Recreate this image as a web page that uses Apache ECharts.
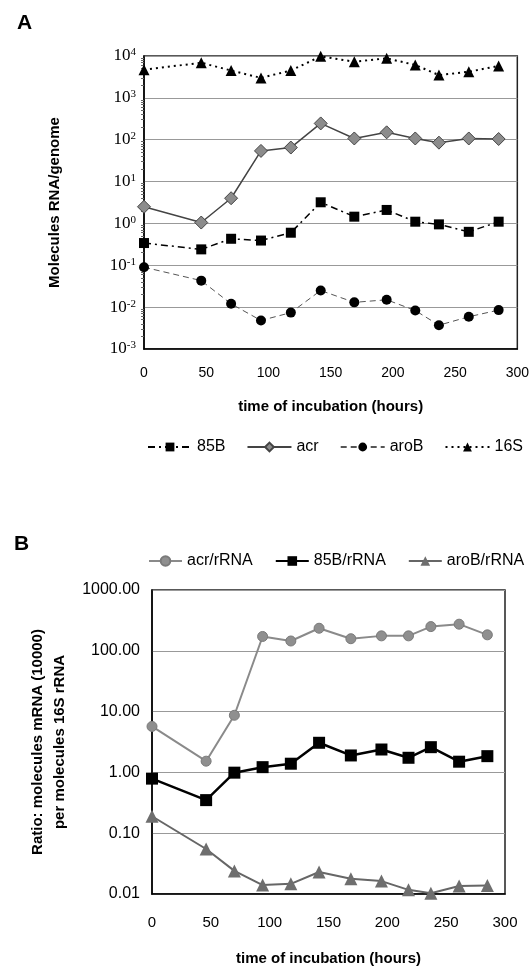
<!DOCTYPE html>
<html>
<head>
<meta charset="utf-8">
<script src="https://cdn.jsdelivr.net/npm/echarts@6/dist/echarts.min.js"></script>
<style>
  html, body { margin: 0; padding: 0; background: #fff; }
  #chart { width: 532px; height: 967px; }
</style>
</head>
<body>
<div id="chart"></div>
<script>
// sampling times (hours) — same for both panels
var hours = [0, 46, 70, 94, 118, 142, 169, 195, 218, 237, 261, 285];
var xTicks = [0, 50, 100, 150, 200, 250, 300];

// panel A: molecules RNA per genome
var rna85B = [0.34, 0.24, 0.43, 0.39, 0.6, 3.2, 1.45, 2.1, 1.1, 0.95, 0.63, 1.1];
var rnaAcr = [2.5, 1.05, 4.0, 54, 65, 245, 107, 150, 107, 85, 107, 104];
var rnaAroB = [0.09, 0.043, 0.012, 0.0048, 0.0074, 0.025, 0.013, 0.015, 0.0083, 0.0037, 0.0059, 0.0085];
var rna16S = [4700, 6900, 4500, 3000, 4500, 9800, 7300, 8800, 6100, 3500, 4200, 5800];

// panel B: ratio mRNA (x10000) per 16S rRNA
var ratioAcr = [5.7, 1.53, 8.7, 172, 145, 235, 158, 176, 176, 250, 274, 183];
var ratio85B = [0.79, 0.35, 0.99, 1.22, 1.39, 3.07, 1.9, 2.38, 1.74, 2.6, 1.5, 1.85];
var ratioAroB = [0.19, 0.055, 0.024, 0.014, 0.0147, 0.023, 0.0178, 0.0163, 0.0117, 0.0103, 0.0135, 0.0138];

function pairs(ys) {
    return hours.map(function (h, i) { return [h, ys[i]]; });
}

var sans = 'Liberation Sans';
var myChart = echarts.init(document.getElementById('chart'));

var xAxisBase = function (idx, size, margin, gap) {
    return {
        type: 'value',
        gridIndex: idx,
        min: xTicks[0],
        max: xTicks[xTicks.length - 1],
        interval: 50,
        axisLine: { lineStyle: { color: '#000', width: 1.5 } },
        axisTick: { show: false },
        splitLine: { show: false },
        axisLabel: { color: '#000', fontFamily: sans, fontSize: size, margin: margin },
        name: 'time of incubation (hours)',
        nameLocation: 'middle',
        nameGap: gap,
        nameTextStyle: { color: '#000', fontFamily: sans, fontSize: 15, fontWeight: 'bold' }
    };
};

var option = {
    backgroundColor: '#fff',
    animation: false,
    title: [
        { text: 'A', left: 12, top: 8, textStyle: { fontFamily: sans, fontSize: 21, fontWeight: 'bold', color: '#000' } },
        { text: 'B', left: 9, top: 529, textStyle: { fontFamily: sans, fontSize: 21, fontWeight: 'bold', color: '#000' } }
    ],
    grid: [
        { left: 144, right: 14, top: 56, height: 293, show: true, borderColor: '#222', borderWidth: 1.5 },
        { left: 152, right: 27, top: 590, height: 305, show: true, borderColor: '#222', borderWidth: 1.5 }
    ],
    legend: [
        {
            data: ['85B', 'acr', 'aroB', '16S'],
            left: 142, top: 434, width: 390, itemGap: 21, itemWidth: 44, itemHeight: 11,
            textStyle: { fontFamily: sans, fontSize: 16, color: '#000' }
        },
        {
            data: ['acr/rRNA', '85B/rRNA', 'aroB/rRNA'],
            left: 143, top: 548, width: 389, itemGap: 22, itemWidth: 33, itemHeight: 12,
            textStyle: { fontFamily: sans, fontSize: 16, color: '#000' }
        }
    ],
    xAxis: [xAxisBase(0, 14, 17, 50), xAxisBase(1, 15, 21, 57)],
    yAxis: [
        {
            type: 'log', gridIndex: 0, logBase: 10, min: 0.001, max: 10000,
            axisLine: { lineStyle: { color: '#000', width: 1.5 } },
            axisTick: { show: false },
            minorTick: { show: true, splitNumber: 9, length: 3, lineStyle: { color: '#666' } },
            splitLine: { lineStyle: { color: '#999', width: 1.2 } },
            axisLabel: {
                margin: 8,
                formatter: function (v) {
                    var e = Math.round(Math.log10(v));
                    return '{b|10}{s|' + e + '}';
                },
                rich: {
                    b: { fontFamily: 'Liberation Serif', fontSize: 17, color: '#000', lineHeight: 18 },
                    s: { fontFamily: 'Liberation Serif', fontSize: 11, color: '#000', verticalAlign: 'top', lineHeight: 10, padding: [0, 0, 8, 0] }
                }
            },
            name: 'Molecules RNA/genome', nameLocation: 'middle', nameRotate: 90, nameGap: 82,
            nameTextStyle: { fontFamily: sans, fontSize: 15, fontWeight: 'bold', color: '#000' }
        },
        {
            type: 'log', gridIndex: 1, logBase: 10, min: 0.01, max: 1000,
            axisLine: { lineStyle: { color: '#000', width: 1.5 } },
            axisTick: { show: false },
            splitLine: { lineStyle: { color: '#999', width: 1.2 } },
            axisLabel: {
                margin: 12, color: '#000', fontFamily: sans, fontSize: 16,
                formatter: function (v) { return v.toFixed(2); }
            },
            name: 'Ratio: molecules mRNA (10000)\nper molecules 16S rRNA',
            nameLocation: 'middle', nameRotate: 90, nameGap: 78,
            nameTextStyle: { fontFamily: sans, fontSize: 15, fontWeight: 'bold', color: '#000', lineHeight: 22 }
        }
    ],
    series: [
        {
            name: '85B', type: 'line', xAxisIndex: 0, yAxisIndex: 0, data: pairs(rna85B),
            symbol: 'rect', symbolSize: 10, clip: false,
            itemStyle: { color: '#000' },
            lineStyle: { color: '#000', width: 1.5, type: [7, 4, 2, 4] }
        },
        {
            name: 'acr', type: 'line', xAxisIndex: 0, yAxisIndex: 0, data: pairs(rnaAcr),
            symbol: 'diamond', symbolSize: 13, clip: false,
            itemStyle: { color: '#8c8c8c', borderColor: '#444', borderWidth: 1 },
            lineStyle: { color: '#444', width: 1.5 }
        },
        {
            name: 'aroB', type: 'line', xAxisIndex: 0, yAxisIndex: 0, data: pairs(rnaAroB),
            symbol: 'circle', symbolSize: 10, clip: false,
            itemStyle: { color: '#000' },
            lineStyle: { color: '#555', width: 1, type: [6, 4] }
        },
        {
            name: '16S', type: 'line', xAxisIndex: 0, yAxisIndex: 0, data: pairs(rna16S),
            symbol: 'triangle', symbolSize: 11, clip: false,
            itemStyle: { color: '#000' },
            lineStyle: { color: '#000', width: 2, type: [2, 4] }
        },
        {
            name: 'acr/rRNA', type: 'line', xAxisIndex: 1, yAxisIndex: 1, data: pairs(ratioAcr),
            symbol: 'circle', symbolSize: 10, clip: false,
            itemStyle: { color: '#8f8f8f', borderColor: '#7a7a7a', borderWidth: 1 },
            lineStyle: { color: '#8a8a8a', width: 2 }
        },
        {
            name: '85B/rRNA', type: 'line', xAxisIndex: 1, yAxisIndex: 1, data: pairs(ratio85B),
            symbol: 'rect', symbolSize: 12, clip: false,
            itemStyle: { color: '#000' },
            lineStyle: { color: '#000', width: 2.5 }
        },
        {
            name: 'aroB/rRNA', type: 'line', xAxisIndex: 1, yAxisIndex: 1, data: pairs(ratioAroB),
            symbol: 'triangle', symbolSize: 13, clip: false,
            itemStyle: { color: '#6e6e6e' },
            lineStyle: { color: '#666', width: 2 }
        }
    ]
};

myChart.setOption(option);
</script>
</body>
</html>
